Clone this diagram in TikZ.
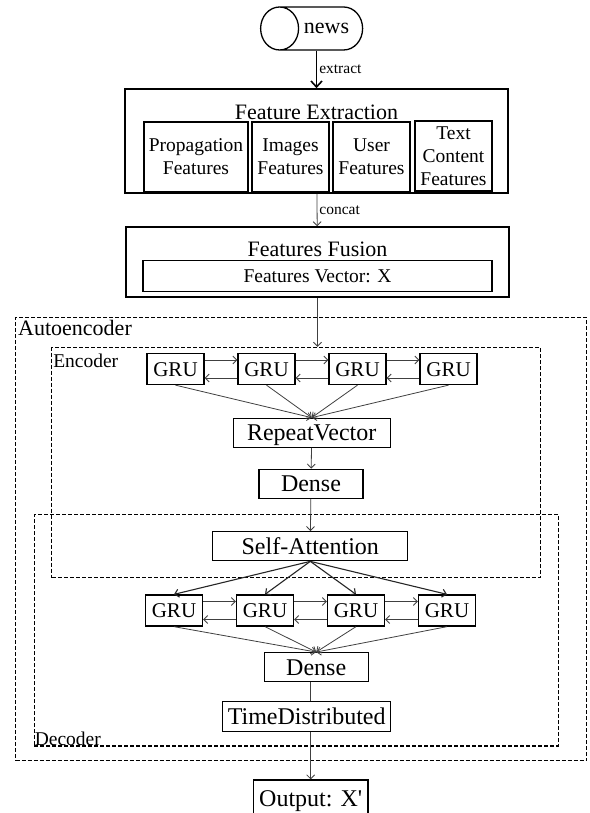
\documentclass[tikz,border=0pt]{standalone}
\usepackage{fontspec}
\setmainfont{Liberation Serif}
\usetikzlibrary{arrows.meta,shapes.geometric}

\begin{document}
\begin{tikzpicture}[x=1pt,y=-1pt,>={Straight Barb[length=4pt,width=8pt]},auto,node distance=91pt,
  frame/.style={draw,line width=1.6pt,inner sep=0pt},
  feat/.style={frame,align=center,font=\fontsize{19.5}{23}\selectfont,minimum height=69.5pt},
  layer/.style={draw,line width=1.3pt,inner sep=0pt,minimum height=29pt,text height=16pt,text depth=0pt,font=\fontsize{24}{28}\selectfont},
  gru/.style={layer,minimum width=57pt,minimum height=31pt,text height=14pt,font=\fontsize{21}{24}\selectfont},
  part/.style={draw,line width=1.4pt,dash pattern=on 4pt off 2pt,inner sep=0pt},
  link/.style={->,line width=.8pt,black!75},
  tag/.style={font=\fontsize{15.5}{18}\selectfont,inner sep=2pt,black}]

\useasboundingbox (0,0) rectangle (589,813);

% dashed groups
\node[part,minimum width=571pt,minimum height=443.4pt,
  label={[anchor=north west,inner sep=3pt,font=\fontsize{22}{26}\selectfont]north west:Autoencoder}] (ae) at (301.2,539) {};
\node[part,minimum width=488.5pt,minimum height=230pt,
  label={[anchor=north west,inner sep=2pt,yshift=-5pt,font=\fontsize{19.5}{23}\selectfont]north west:Encoder}] (enc) at (296,462.5) {};
\node[part,minimum width=524pt,minimum height=231.3pt,
  label={[anchor=south west,inner sep=1pt,font=\fontsize{19.5}{23}\selectfont]south west:Decoder}] (dec) at (296.3,630.4) {};

% input and features
\node[cylinder,shape border rotate=180,draw,line width=1.3pt,shape aspect=2.2,
  minimum height=102pt,minimum width=43pt,font=\fontsize{22}{26}\selectfont] (news) at (326.5,28.5) {news};

\node[frame,minimum width=383pt,minimum height=104pt] (fe) at (316.5,141) {};
\node[font=\fontsize{22}{26}\selectfont] (fetitle) at (316.5,112) {Feature Extraction};
\node[feat,minimum width=104pt] (prop) at (196,156.8) {Propagation\\Features};
\node[feat,minimum width=77pt] (img) at (290.5,156.8) {Images\\Features};
\node[feat,minimum width=77pt] (user) at (371.5,157) {User\\Features};
\node[feat,minimum width=77pt,minimum height=70pt] (txt) at (453.5,156) {Text\\Content\\Features};

\node[frame,minimum width=383pt,minimum height=70pt] (fus) at (317.5,262) {};
\node[font=\fontsize{22}{26}\selectfont] (fustitle) at (317.5,249) {Features Fusion};
\node[frame,minimum width=349pt,minimum height=31pt,font=\fontsize{19.5}{23}\selectfont,
  text height=13pt,text depth=0pt] (vec) at (317.5,276.1) {Features Vector: X};

% encoder
\node[gru] (e1) at (175.5,369) {GRU};
\node[gru] (e2) [right of=e1] {GRU};
\node[gru] (e3) [right of=e2] {GRU};
\node[gru] (e4) [right of=e3] {GRU};
\node[layer,minimum width=157pt] (rv) at (311.7,432.8) {RepeatVector};
\node[layer,minimum width=104pt] (den1) at (311,483.7) {Dense};

% decoder
\node[layer,minimum width=195pt] (att) at (310.3,546.2) {Self-Attention};
\node[gru] (d1) at (174,610.5) {GRU};
\node[gru] (d2) [right of=d1] {GRU};
\node[gru] (d3) [right of=d2] {GRU};
\node[gru] (d4) [right of=d3] {GRU};
\node[layer,minimum width=104pt] (den2) at (316.2,667.2) {Dense};
\node[layer,minimum width=168pt,minimum height=30pt] (td) at (306.7,716.7) {TimeDistributed};

\node[layer,minimum width=114.7pt,minimum height=36pt] (out) at (310.7,798) {Output: X\textquotesingle};

\path[link] (news.south -| fe.north) edge[-{Straight Barb[length=6pt,width=11pt]},line width=1.6pt,black] node[tag]{extract} (fe.north)
            (fe) edge node[tag]{concat} (fus)
            (fus) edge (fus |- enc.north);

\path[link] ([yshift=9pt]e1.east) edge ([yshift=9pt]e2.west)
            ([yshift=9pt]e2.east) edge ([yshift=9pt]e3.west)
            ([yshift=9pt]e3.east) edge ([yshift=9pt]e4.west)
            ([yshift=-9pt]e4.west) edge ([yshift=-9pt]e3.east)
            ([yshift=-9pt]e3.west) edge ([yshift=-9pt]e2.east)
            ([yshift=-9pt]e2.west) edge ([yshift=-9pt]e1.east)
            (e1.south) edge (rv.north)
            (e2.south) edge (rv.north)
            (e3.south) edge (rv.north)
            (e4.south) edge (rv.north)
            (rv) edge (den1)
            (den1) edge (att);

\path[link] (att.south) edge[line width=1.1pt,black!85] (d1.north)
                        edge[line width=1.1pt,black!85] (d2.north)
                        edge[line width=1.1pt,black!85] (d3.north)
                        edge[line width=1.1pt,black!85] (d4.north)
            ([yshift=9pt]d1.east) edge ([yshift=9pt]d2.west)
            ([yshift=9pt]d2.east) edge ([yshift=9pt]d3.west)
            ([yshift=9pt]d3.east) edge ([yshift=9pt]d4.west)
            ([yshift=-9pt]d4.west) edge ([yshift=-9pt]d3.east)
            ([yshift=-9pt]d3.west) edge ([yshift=-9pt]d2.east)
            ([yshift=-9pt]d2.west) edge ([yshift=-9pt]d1.east)
            (d1.south) edge (den2.north)
            (d2.south) edge (den2.north)
            (d3.south) edge (den2.north)
            (d4.south) edge (den2.north)
            (den2.south -| out.north) edge[-] (td.north -| out.north)
            (td.south -| out.north) edge (out.north);

\end{tikzpicture}
\end{document}
